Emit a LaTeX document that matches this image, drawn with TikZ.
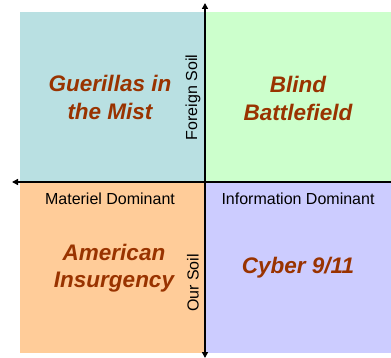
\documentclass[tikz,border=0pt]{standalone}
\usepackage{fontspec}
\setmainfont{Liberation Sans}
\usetikzlibrary{arrows.meta}
\definecolor{qteal}{RGB}{185,224,226}
\definecolor{qgreen}{RGB}{204,255,204}
\definecolor{qorange}{RGB}{255,204,153}
\definecolor{qpurple}{RGB}{204,204,255}
\definecolor{qtitle}{RGB}{153,51,0}
\begin{document}
\begin{tikzpicture}[x=1pt,y=-1pt,
  title/.style={text=qtitle,font=\fontsize{22.5}{27.5}\selectfont\bfseries\itshape,align=center},
  axlabel/.style={font=\fontsize{16}{18}\selectfont,text=black},
  axis/.style={line width=1.5pt,-{Triangle[length=6pt,width=6pt]}}]
\useasboundingbox (0,0) rectangle (391,358);
\fill[qteal] (20,12) rectangle (205,182);
\fill[qgreen] (205,12) rectangle (391,182);
\fill[qorange] (20,182) rectangle (205,353);
\fill[qpurple] (205,182) rectangle (391,353);
\coordinate (top) at (205,3);
\coordinate (bot) at (205,358);
\coordinate (left) at (12,182);
\coordinate (right) at (391,182);
\draw[axis] (right) -- (left);
\draw[axis,{Triangle[length=6pt,width=6pt]}-{Triangle[length=6pt,width=6pt]}] (top) -- (bot);
\node[title] (gm) at (110,97.5) {Guerillas in\\the Mist};
\node[title] (bb) at (298,98.5) {Blind\\Battlefield};
\node[title] (ai) at (114,268) {American\\Insurgency};
\node[title] (cy) at (298,268) {Cyber 9/11};
\node[axlabel] (md) at (110,199) {Materiel Dominant};
\node[axlabel] (id) at (298,199) {Information Dominant};
\node[axlabel,rotate=90] (fs) at (193,97.5) {Foreign Soil};
\node[axlabel,rotate=90] (os) at (193,283) {Our Soil};
\end{tikzpicture}
\end{document}
